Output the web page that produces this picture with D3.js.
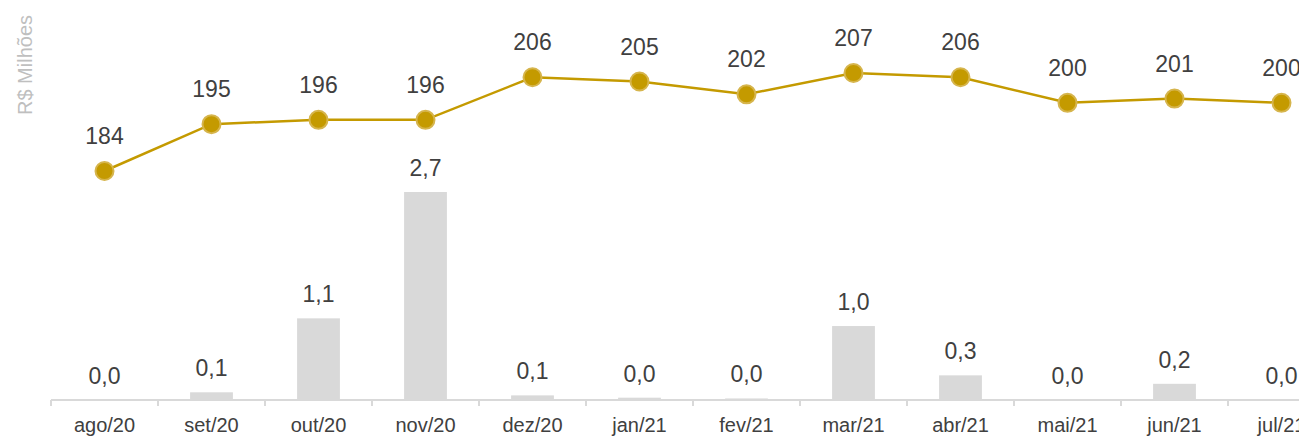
<!DOCTYPE html>
<html>
<head>
<meta charset="utf-8">
<script src="https://cdn.jsdelivr.net/npm/d3@7"></script>
<style>
  body { margin: 0; background: #fff; }
  svg { display: block; font-family: "Liberation Sans", Arial, sans-serif; }
</style>
</head>
<body>
<div id="chart"></div>
<script>
var months = ["ago/20", "set/20", "out/20", "nov/20", "dez/20", "jan/21", "fev/21", "mar/21", "abr/21", "mai/21", "jun/21", "jul/21"]
var lineValues = [184, 195, 196, 196, 206, 205, 202, 207, 206, 200, 201, 200]
var barValues = [0.0, 0.1, 1.06, 2.7, 0.06, 0.03, 0.02, 0.96, 0.32, 0.0, 0.21, 0.0]

var w = 1299
var h = 437

var svg = d3.select("#chart").append("svg")
    .attr("width", w)
    .attr("height", h)

// band scale, chart runs off the right edge like the original
var x = d3.scaleBand()
    .domain(months)
    .range([51, 51 + 107 * months.length])
    .paddingInner(0.6)
    .paddingOuter(0.3)

var xTick = d3.scalePoint()
    .domain(months)
    .range([51, 51 + 107 * (months.length - 1)])

var yBar = d3.scaleLinear()
    .domain([0, 2.7])
    .range([400, 192])

var yLine = d3.scaleLinear()
    .domain([184, 207])
    .range([171, 73])

var fmt = function (v) { return v.toFixed(1).replace(".", ",") }
var cx = function (d, i) { return x(months[i]) + x.bandwidth() / 2 }

// bars
svg.selectAll(".bar")
    .data(barValues)
    .enter().append("rect")
    .attr("x", function (d, i) { return x(months[i]) })
    .attr("y", function (d) { return yBar(d) })
    .attr("width", x.bandwidth())
    .attr("height", function (d) { return 400 - yBar(d) })
    .attr("fill", "#d9d9d9")

svg.selectAll(".barLabel")
    .data(barValues)
    .enter().append("text")
    .attr("x", cx)
    .attr("y", function (d) { return yBar(d) - 16 })
    .attr("text-anchor", "middle")
    .attr("font-size", 23)
    .attr("fill", "#404040")
    .text(fmt)

// x axis
var axis = svg.append("g").attr("transform", "translate(0,400)")
axis.append("line")
    .attr("x1", 51).attr("x2", w)
    .attr("stroke", "#d9d9d9").attr("stroke-width", 2)
axis.selectAll(".tick")
    .data(months)
    .enter().append("line")
    .attr("x1", function (d) { return xTick(d) })
    .attr("x2", function (d) { return xTick(d) })
    .attr("y1", 0).attr("y2", 6)
    .attr("stroke", "#d9d9d9").attr("stroke-width", 2)
axis.selectAll(".lbl")
    .data(months)
    .enter().append("text")
    .attr("x", function (d) { return x(d) + x.bandwidth() / 2 })
    .attr("y", 32)
    .attr("text-anchor", "middle")
    .attr("font-size", 20)
    .attr("fill", "#404040")
    .text(function (d) { return d })

// line
var line = d3.line()
    .x(cx)
    .y(function (d) { return yLine(d) })

svg.append("path")
    .datum(lineValues)
    .attr("d", line)
    .attr("fill", "none")
    .attr("stroke", "#c49a00")
    .attr("stroke-width", 2.5)

svg.selectAll(".dot")
    .data(lineValues)
    .enter().append("circle")
    .attr("cx", cx)
    .attr("cy", function (d) { return yLine(d) })
    .attr("r", 9)
    .attr("fill", "#c49a00")
    .attr("stroke", "#d6b54d")
    .attr("stroke-width", 2)

svg.selectAll(".lineLabel")
    .data(lineValues)
    .enter().append("text")
    .attr("x", cx)
    .attr("y", function (d) { return yLine(d) - 27 })
    .attr("text-anchor", "middle")
    .attr("font-size", 23)
    .attr("fill", "#404040")
    .text(function (d) { return d })

// y title
svg.append("text")
    .attr("transform", "translate(32,65) rotate(-90)")
    .attr("text-anchor", "middle")
    .attr("font-size", 20)
    .attr("fill", "#bfbfbf")
    .text("R$ Milhões")
</script>
</body>
</html>
